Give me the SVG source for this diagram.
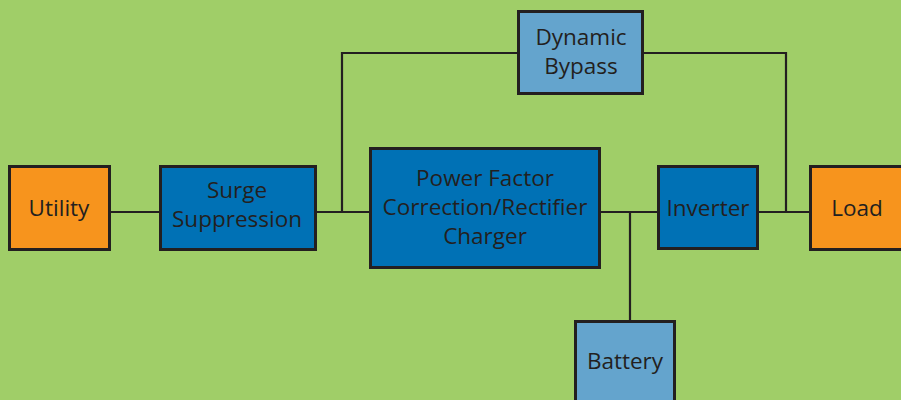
<svg xmlns="http://www.w3.org/2000/svg" width="901" height="400" viewBox="0 0 901 400">
<style>
.b{stroke:#231f20;stroke-width:3}
.o{fill:#f7941d}
.d{fill:#0071b5}
.l{fill:#64a4cd}
.w{fill:none;stroke:#231f20;stroke-width:2.2}
text{font-family:"Open Sans","Noto Sans",sans-serif;font-size:22.5px;fill:#231f20;text-anchor:middle}
</style>
<rect width="901" height="400" fill="#a0ce68"/>
<g id="connectors">
<path class="w" d="M109 212H160M315 212H370M342 212V53H518M643 53H786V212M600 212H658M630 212V321M758 212H810"/>
</g>
<g id="utility"><rect class="b o" x="9.5" y="166.5" width="100" height="83"/><text x="59" y="216">Utility</text></g>
<g id="surge"><rect class="b d" x="160.5" y="166.5" width="155" height="83"/><text x="237" y="198">Surge</text><text x="237" y="227">Suppression</text></g>
<g id="bypass"><rect class="b l" x="518.5" y="11.5" width="124" height="82"/><text x="581" y="45">Dynamic</text><text x="581" y="74">Bypass</text></g>
<g id="pfc"><rect class="b d" x="370.5" y="148.5" width="229" height="119"/><text x="485" y="186">Power Factor</text><text x="485" y="215">Correction/Rectifier</text><text x="485" y="244">Charger</text></g>
<g id="inverter"><rect class="b d" x="658.5" y="166.5" width="99" height="82"/><text x="708" y="216">Inverter</text></g>
<g id="battery"><rect class="b l" x="575.5" y="321.5" width="99" height="90"/><text x="625" y="369">Battery</text></g>
<g id="load"><rect class="b o" x="810.5" y="166.5" width="100" height="83"/><text x="857" y="216">Load</text></g>
</svg>
